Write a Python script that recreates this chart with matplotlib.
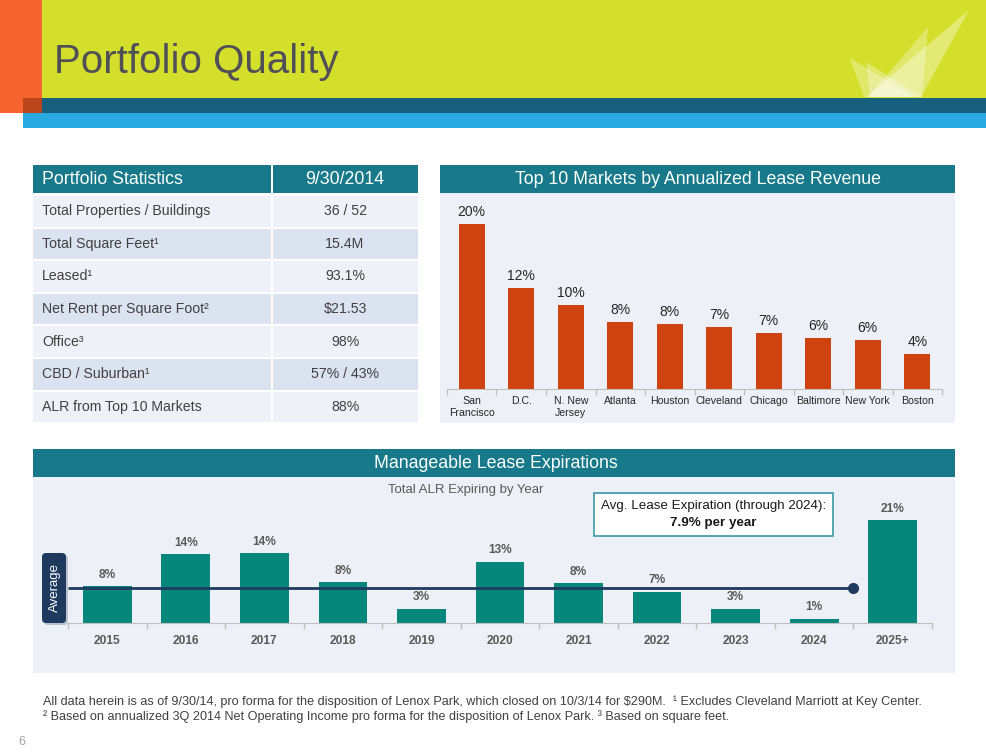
import matplotlib
matplotlib.use('Agg')
import matplotlib.pyplot as plt
from matplotlib.patches import Rectangle, FancyBboxPatch, Polygon

plt.rcParams['font.family'] = ['Liberation Sans', 'DejaVu Sans']

# ---------------- data ----------------
stat_header = ['Portfolio Statistics', '9/30/2014']
stat_labels = ['Total Properties / Buildings', 'Total Square Feet\u00b9', 'Leased\u00b9',
               'Net Rent per Square Foot\u00b2', 'Office\u00b3', 'CBD / Suburban\u00b9',
               'ALR from Top 10 Markets']
stat_values = ['36 / 52', '15.4M', '93.1%', '$21.53', '98%', '57% / 43%', '88%']

market_names = ['San\nFrancisco', 'D.C.', 'N. New\nJersey', 'Atlanta', 'Houston',
                'Cleveland', 'Chicago', 'Baltimore', 'New York', 'Boston']
market_share = [20.0, 12.3, 10.2, 8.1, 7.9, 7.5, 6.8, 6.2, 6.0, 4.3]
market_labels = ['20%', '12%', '10%', '8%', '8%', '7%', '7%', '6%', '6%', '4%']

years = ['2015', '2016', '2017', '2018', '2019', '2020', '2021', '2022', '2023', '2024', '2025+']
expiring = [7.5, 14.0, 14.2, 8.3, 2.9, 12.4, 8.1, 6.3, 2.9, 0.9, 20.9]
expiring_labels = ['8%', '14%', '14%', '8%', '3%', '13%', '8%', '7%', '3%', '1%', '21%']
average_level = 7.2

title = 'Portfolio Quality'
markets_title = 'Top 10 Markets by Annualized Lease Revenue'
expir_title = 'Manageable Lease Expirations'
expir_subtitle = 'Total ALR Expiring by Year'
callout_1 = 'Avg. Lease Expiration (through 2024):'
callout_2 = '7.9% per year'
footnote_1 = ('All data herein is as of 9/30/14, pro forma for the disposition of Lenox Park, '
              'which closed on 10/3/14 for $290M.  \u00b9 Excludes Cleveland Marriott at Key Center.')
footnote_2 = ('\u00b2 Based on annualized 3Q 2014 Net Operating Income pro forma for the '
              'disposition of Lenox Park. \u00b3 Based on square feet.')

# ---------------- colours ----------------
LIME = '#d4df2b'
ORANGE = '#f7642d'
DARKBAND = '#175f7d'
OVERLAP = '#b8461a'
BLUEBAND = '#29a9e1'
TEAL = '#17798a'
PANEL = '#edf1f7'
ROW_LIGHT = '#eef2f8'
ROW_DARK = '#dbe3f0'
BAR_ORANGE = '#cf4310'
BAR_GREEN = '#07877b'
NAVY = '#1e3a5f'
TXT = '#404040'
GRAY = '#595959'

W, H = 987, 752
fig = plt.figure(figsize=(W / 100, H / 100), dpi=100)
fig.patch.set_facecolor('white')
bg = fig.add_axes([0, 0, 1, 1])
bg.set_xlim(0, W)
bg.set_ylim(H, 0)
bg.axis('off')


def box(x0, y0, x1, y1, color, **kw):
    bg.add_patch(Rectangle((x0, y0), x1 - x0, y1 - y0, facecolor=color,
                           edgecolor=kw.pop('edgecolor', 'none'), **kw))


def axes_px(x0, y0, x1, y1):
    a = fig.add_axes([x0 / W, 1 - y1 / H, (x1 - x0) / W, (y1 - y0) / H])
    a.set_facecolor('none')
    return a


# ---------------- header ----------------
box(0, 0, W, 98, LIME)
box(23, 98, W, 113, DARKBAND)
box(23, 113, W, 128, BLUEBAND)
box(0, 0, 42, 98, ORANGE)
box(0, 98, 23, 113, ORANGE)
box(23, 98, 42, 113, OVERLAP)
bg.text(54, 73, title, fontsize=29, color='#4f4f57', va='baseline', ha='left')
for pts, al in [([(850, 58), (864, 97), (915, 97)], 0.30),
                ([(866, 62), (870, 97), (922, 97)], 0.30),
                ([(928, 27), (868, 97), (922, 97)], 0.30),
                ([(969, 10), (866, 97), (921, 97)], 0.35)]:
    bg.add_patch(Polygon(pts, closed=True, facecolor='white', edgecolor='none', alpha=al))

# ---------------- statistics table ----------------
box(33, 165, 271, 193, TEAL)
box(273, 165, 418, 193, TEAL)
bg.text(42, 180, stat_header[0], fontsize=12.8, color='white', va='center', ha='left')
bg.text(345, 180, stat_header[1], fontsize=12.8, color='white', va='center', ha='center')
row_top, row_h = 196, 32.6
for i, (lab, val) in enumerate(zip(stat_labels, stat_values)):
    y0 = row_top + i * row_h
    y1 = y0 + row_h - 2
    c = ROW_LIGHT if i % 2 == 0 else ROW_DARK
    box(33, y0, 271, y1, c)
    box(273, y0, 418, y1, c)
    yc = (y0 + y1) / 2
    bg.text(42, yc, lab, fontsize=10.2, color=TXT, va='center', ha='left')
    bg.text(345, yc, val, fontsize=10.2, color=TXT, va='center', ha='center')

# ---------------- top markets panel ----------------
box(440, 165, 955, 193, TEAL)
box(440, 193, 955, 423, PANEL)
bg.text(698, 179, markets_title, fontsize=12.8, color='white', va='center', ha='center')

ax1 = axes_px(447, 207, 942, 389)
x1 = list(range(len(market_names)))
ax1.bar(x1, market_share, width=0.52, color=BAR_ORANGE, zorder=2)
for xi, v, lab in zip(x1, market_share, market_labels):
    ax1.annotate(lab, (xi, v), xytext=(0, 3.5), textcoords='offset points',
                 ha='center', va='bottom', fontsize=10, color='#262626')
ax1.set_xlim(-0.5, len(market_names) - 0.5)
ax1.set_ylim(0, 182 / 8.25)
ax1.set_xticks(x1)
ax1.set_xticklabels(market_names, fontsize=7.6, color='#262626', linespacing=1.25)
ax1.set_xticks([i - 0.5 for i in range(len(market_names) + 1)], minor=True)
ax1.tick_params(axis='x', which='major', length=0, pad=5)
ax1.tick_params(axis='x', which='minor', length=4, color='#bfbfbf', width=1)
ax1.set_yticks([])
for s in ['top', 'right', 'left']:
    ax1.spines[s].set_visible(False)
ax1.spines['bottom'].set_color('#bfbfbf')

# ---------------- lease expirations panel ----------------
box(33, 449, 955, 477, TEAL)
box(33, 477, 955, 673, PANEL)
bg.text(496, 463, expir_title, fontsize=12.8, color='white', va='center', ha='center')
bg.text(466, 490, expir_subtitle, fontsize=9.5, color=GRAY, va='center', ha='center')

ax2 = axes_px(68, 500, 932, 623)
x2 = list(range(len(years)))
ax2.bar(x2, expiring, width=0.62, color=BAR_GREEN, zorder=2)
for xi, v, lab in zip(x2, expiring, expiring_labels):
    ax2.annotate(lab, (xi, v), xytext=(0, 4), textcoords='offset points',
                 ha='center', va='bottom', fontsize=8.6, color=GRAY, fontweight='bold')
ax2.plot([-0.5, len(years) - 1.5], [average_level, average_level], color=NAVY, lw=2, zorder=3,
         solid_capstyle='butt', clip_on=False)
ax2.plot([len(years) - 1.5], [average_level], 'o', color=NAVY, ms=7, zorder=4, clip_on=False)
ax2.set_xlim(-0.5, len(years) - 0.5)
ax2.set_ylim(0, 123 / 4.92)
ax2.set_xticks(x2)
ax2.set_xticklabels(years, fontsize=8.6, color=GRAY, fontweight='bold')
ax2.set_xticks([i - 0.5 for i in range(len(years) + 1)], minor=True)
ax2.tick_params(axis='x', which='major', length=0, pad=9)
ax2.tick_params(axis='x', which='minor', length=4, color='#bfbfbf', width=1)
ax2.set_yticks([])
for s in ['top', 'right', 'left']:
    ax2.spines[s].set_visible(False)
ax2.spines['bottom'].set_color('#bfbfbf')

# "Average" badge (in an overlay axes so it sits above the line)
ov = fig.add_axes([0, 0, 1, 1], zorder=5)
ov.set_xlim(0, W)
ov.set_ylim(H, 0)
ov.axis('off')
ov.add_patch(FancyBboxPatch((44, 555), 24, 70, boxstyle='round,pad=0,rounding_size=4',
                            facecolor='#7f8a99', edgecolor='none', alpha=0.45))
ov.add_patch(FancyBboxPatch((42, 553), 24, 70, boxstyle='round,pad=0,rounding_size=4',
                            facecolor=NAVY, edgecolor='none'))
ov.text(54.5, 588, 'Average', rotation=90, fontsize=9.5, color='white', ha='center', va='center')

# callout box
ov.add_patch(Rectangle((594, 493), 239, 43, facecolor='white', edgecolor='#3a98a5', lw=1.2))
ov.text(713.5, 506, callout_1, fontsize=9.6, color='#1a1a1a', ha='center', va='center')
ov.text(713.5, 523, callout_2, fontsize=9.6, color='#1a1a1a', ha='center', va='center',
        fontweight='bold')

# ---------------- footnotes ----------------
bg.text(43, 705, footnote_1, fontsize=9.1, color=TXT, va='baseline', ha='left')
bg.text(43, 720, footnote_2, fontsize=9.1, color=TXT, va='baseline', ha='left')
bg.text(18, 745, '6', fontsize=9, color='#a6a6a6', va='baseline', ha='left')

fig.savefig('out.png', dpi=100, facecolor='white')
